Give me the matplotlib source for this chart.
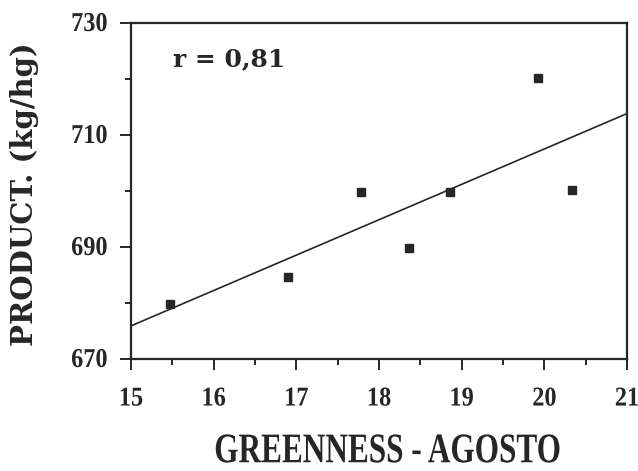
import numpy as np
import matplotlib
matplotlib.use("Agg")
import matplotlib.pyplot as plt
from matplotlib.ticker import MultipleLocator
from matplotlib.patheffects import AbstractPathEffect
from matplotlib.transforms import Affine2D

greenness = [15.47, 16.90, 17.78, 18.36, 18.86, 19.92, 20.33]
product = [679.8, 684.6, 699.9, 689.9, 699.9, 720.1, 700.1]
x_ticks = [15, 16, 17, 18, 19, 20, 21]
y_ticks = [670, 690, 710, 730]
r_label = "r = 0,81"
x_label = "GREENNESS - AGOSTO"
y_label = "PRODUCT. (kg/hg)"

serif = ["Liberation Serif", "DejaVu Serif"]
wide_serif = ["DejaVu Serif", "Liberation Serif"]
ink = "#262626"


class TallText(AbstractPathEffect):
    """Stretch the glyph outlines vertically (condensed look)."""
    def __init__(self, sy):
        super().__init__()
        self.sy = sy

    def draw_path(self, renderer, gc, tpath, affine, rgbFace=None):
        renderer.draw_path(gc, tpath, Affine2D().scale(1.0, self.sy) + affine,
                           rgbFace)


fig = plt.figure(figsize=(6.38, 4.71), dpi=100)
ax = fig.add_axes([0.2053, 0.2378, 0.7774, 0.7134])

ax.plot(greenness, product, linestyle="none", marker="s", markersize=6,
        color=ink)
slope, intercept = np.polyfit(greenness, product, 1)
xs = np.array([x_ticks[0], x_ticks[-1]])
ax.plot(xs, slope * xs + intercept, color=ink, linewidth=1.2)

ax.set_xlim(x_ticks[0], x_ticks[-1])
ax.set_ylim(y_ticks[0], y_ticks[-1])
ax.set_xticks(x_ticks)
ax.set_yticks(y_ticks)
ax.xaxis.set_minor_locator(MultipleLocator(0.5))
ax.yaxis.set_minor_locator(MultipleLocator(10))
ax.tick_params(which="major", direction="out", length=8, width=1.4,
               color=ink, labelsize=17.5, labelcolor=ink)
ax.tick_params(axis="x", which="major", pad=14)
ax.tick_params(axis="y", which="major", pad=9)
ax.tick_params(which="minor", direction="out", length=4, width=1.4, color=ink)
for lab in ax.get_xticklabels() + ax.get_yticklabels():
    lab.set_family(serif)
    lab.set_fontweight("bold")
    lab.set_path_effects([TallText(1.12)])
for s in ax.spines.values():
    s.set_linewidth(1.6)
    s.set_color(ink)

ax.text(15.51, 723.6, r_label, family=wide_serif, fontweight="bold",
        fontsize=18, va="center", ha="left", color=ink)

xl = ax.set_xlabel(x_label, family=serif, fontweight="bold", fontsize=22.5,
                   color=ink, va="center")
xl.set_path_effects([TallText(1.35)])
ax.xaxis.set_label_coords(0.517, -0.285)

ax.set_ylabel(y_label, family=wide_serif, fontweight="bold", fontsize=21,
              color=ink, va="center")
ax.yaxis.set_label_coords(-0.214, 0.49)

fig.savefig("out.png", dpi=100)
